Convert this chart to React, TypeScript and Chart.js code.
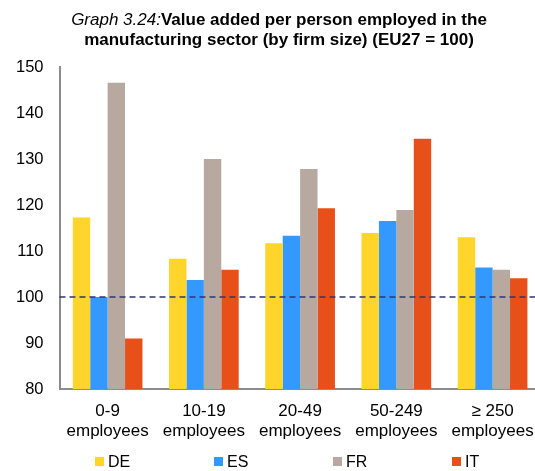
import React, { useEffect, useRef } from "react";
import { Chart, registerables } from "chart.js";

Chart.register(...registerables);

const categories: string[][] = [
  ["0-9", "employees"],
  ["10-19", "employees"],
  ["20-49", "employees"],
  ["50-249", "employees"],
  ["≥ 250", "employees"],
];
const seriesNames = ["DE", "ES", "FR", "IT"];
const deValues = [117.3, 108.3, 111.7, 113.9, 113.0];
const esValues = [100.0, 103.7, 113.3, 116.5, 106.4];
const frValues = [146.6, 130.0, 127.8, 118.9, 105.9];
const itValues = [91.0, 105.9, 119.3, 134.4, 104.1];
const seriesColors = ["#FFD52B", "#3399FF", "#B7A9A0", "#E85019"];
const yMin = 80;
const yMax = 150;
const yStep = 10;
const referenceValue = 100;

const FONT = "'Liberation Sans', Arial, sans-serif";

const refLinePlugin = {
  id: "refLine",
  afterDatasetsDraw(chart: any) {
    const { ctx, chartArea, scales } = chart;
    const y = scales.y.getPixelForValue(referenceValue);
    ctx.save();
    ctx.strokeStyle = "#2F3573";
    ctx.lineWidth = 1.5;
    ctx.setLineDash([6, 4]);
    ctx.beginPath();
    ctx.moveTo(chartArea.left, y);
    ctx.lineTo(chartArea.right, y);
    ctx.stroke();
    ctx.restore();
  },
};

export default function App() {
  const canvasRef = useRef<HTMLCanvasElement | null>(null);

  useEffect(() => {
    if (!canvasRef.current) return;
    const values = [deValues, esValues, frValues, itValues];
    const chart = new Chart(canvasRef.current, {
      type: "bar",
      data: {
        labels: categories,
        datasets: seriesNames.map((name, i) => ({
          label: name,
          data: values[i],
          backgroundColor: seriesColors[i],
          borderWidth: 0,
          barPercentage: 1,
          categoryPercentage: 0.724,
        })),
      },
      options: {
        animation: false,
        responsive: false,
        maintainAspectRatio: false,
        layout: { padding: { top: 67, right: 3, left: 0, bottom: 0 } },
        plugins: {
          legend: { display: false },
          title: { display: false },
          tooltip: { enabled: false },
        },
        scales: {
          x: {
            grid: { display: false, drawTicks: false },
            border: { display: true, color: "#8C8C8C", width: 2 },
            ticks: {
              color: "#000",
              font: { family: FONT, size: 17, lineHeight: 1.18 },
              padding: 12,
              maxRotation: 0,
              autoSkip: false,
            },
            afterFit(scale: any) {
              scale.height = 82;
            },
          },
          y: {
            min: yMin,
            max: yMax,
            grid: { display: false, drawTicks: false },
            border: { display: true, color: "#8C8C8C", width: 2 },
            ticks: {
              stepSize: yStep,
              color: "#000",
              font: { family: FONT, size: 16.5 },
              padding: 16,
            },
            afterFit(scale: any) {
              scale.width = 59.5;
            },
          },
        },
      },
      plugins: [refLinePlugin],
    });
    return () => chart.destroy();
  }, []);

  const legendLeft = [95, 214, 333, 452];

  return (
    <div
      style={{
        position: "fixed",
        left: 0,
        top: 0,
        width: 535,
        height: 471,
        overflow: "hidden",
        background: "#fff",
      }}
    >
      <canvas
        ref={canvasRef}
        width={546}
        height={471}
        style={{ position: "absolute", left: 0, top: 0, width: 546, height: 471 }}
      />
      <div
        style={{
          position: "absolute",
          left: 0,
          top: 10,
          width: 558,
          textAlign: "center",
          fontFamily: FONT,
          fontSize: 17,
          fontWeight: "bold",
          lineHeight: "20px",
          color: "#000",
          whiteSpace: "nowrap",
        }}
      >
        <span style={{ fontStyle: "italic", fontWeight: "normal" }}>Graph 3.24:</span>
        Value added per person employed in the
        <br />
        manufacturing sector (by firm size) (EU27 = 100)
      </div>
      {seriesNames.map((name, i) => (
        <div
          key={name}
          style={{
            position: "absolute",
            left: legendLeft[i],
            top: 452,
            height: 19,
            display: "flex",
            alignItems: "center",
            fontFamily: FONT,
            fontSize: 16,
            color: "#000",
          }}
        >
          <span
            style={{
              display: "inline-block",
              width: 9,
              height: 9,
              background: seriesColors[i],
              marginRight: 4,
            }}
          />
          {name}
        </div>
      ))}
    </div>
  );
}
